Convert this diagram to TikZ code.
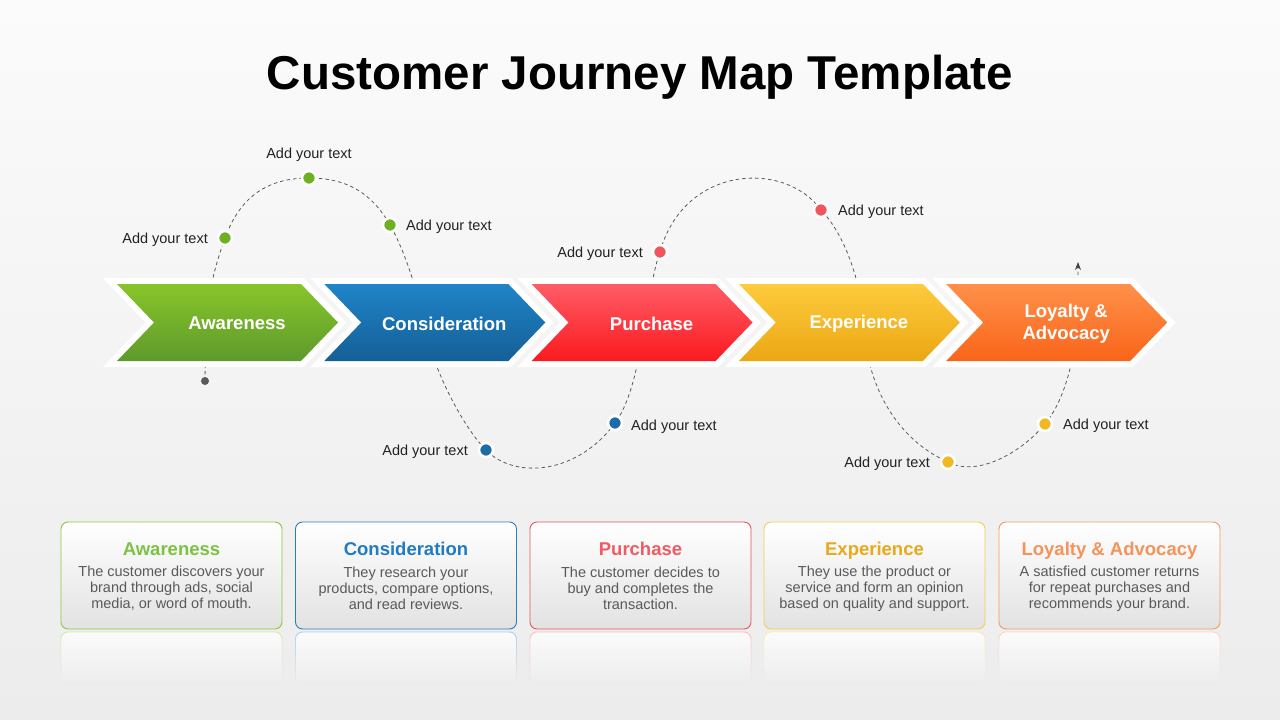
\documentclass[tikz,border=0pt]{standalone}
\usepackage{fontspec}
\setmainfont{Liberation Sans}
\usetikzlibrary{arrows.meta,fadings}
\definecolor{bgtop}{HTML}{FBFBFB}
\definecolor{bgbot}{HTML}{ECECEC}
\definecolor{gA}{HTML}{88C52A}\definecolor{gB}{HTML}{5E9A2C}
\definecolor{bA}{HTML}{1F84C8}\definecolor{bB}{HTML}{155F96}
\definecolor{rA}{HTML}{FF5C68}\definecolor{rB}{HTML}{FA1A1E}
\definecolor{yA}{HTML}{FDCB3C}\definecolor{yB}{HTML}{EBA714}
\definecolor{oA}{HTML}{FF9049}\definecolor{oB}{HTML}{F9651A}
\definecolor{dG}{HTML}{6FAF22}\definecolor{dB}{HTML}{1B6CA8}
\definecolor{dR}{HTML}{F0545E}\definecolor{dY}{HTML}{F2B824}
\definecolor{kG}{HTML}{8DC63F}\definecolor{kB}{HTML}{2A7DBF}
\definecolor{kR}{HTML}{E9545E}\definecolor{kY}{HTML}{F5CE4A}
\definecolor{kO}{HTML}{F29A63}
\definecolor{tG}{HTML}{7CC242}\definecolor{tB}{HTML}{1F7BC2}
\definecolor{tR}{HTML}{F05A62}\definecolor{tY}{HTML}{E9A91A}
\definecolor{tO}{HTML}{F4935A}
\definecolor{bodygray}{HTML}{595959}
\definecolor{lblcol}{HTML}{222222}
\definecolor{dashcol}{HTML}{5A5A5A}
\definecolor{arrowcol}{HTML}{444444}
\definecolor{cardbot}{HTML}{E2E2E2}
\newcommand\chevron[3]{\path[preaction={draw=white,line width=12pt,line join=miter},
  top color=#2, bottom color=#3]
  (#1,-284) -- ++(184,0) -- ++(37,-38.5) -- ++(-37,-38.5) -- ++(-184,0) -- ++(37,38.5) -- cycle;}
\newcommand\reflect[2]{\path[draw=#2!45, fill=white, line width=0.9pt, rounded corners=7pt,
  path fading=south, opacity=0.8] (#1-110.5,-632) rectangle (#1+110.5,-684);}
\tikzset{
  journey/.style={draw=dashcol, line width=0.8pt, dash pattern=on 3.5pt off 3pt},
  dot/.style={circle, fill=#1, draw=white, line width=2.6pt, minimum size=14pt, inner sep=0pt},
  lbl/.style={font=\fontsize{14.5}{17}\selectfont, text=lblcol, inner sep=0pt},
  chevtxt/.style={font=\bfseries\fontsize{18.5}{22}\selectfont, text=white, align=center},
  card/.style={draw=#1, line width=0.9pt, rounded corners=7pt, top color=white,
    bottom color=cardbot, minimum width=221pt, minimum height=107pt, inner sep=0pt},
  cardtitle/.style={font=\bfseries\fontsize{18.5}{22}\selectfont, text=#1, anchor=base, inner sep=0pt},
  cardbody/.style={font=\fontsize{14.5}{16}\selectfont, text=bodygray, align=center}
}
\begin{document}
\begin{tikzpicture}[x=1pt,y=1pt]
\useasboundingbox (0,0) rectangle (1280,-720);
\shade[top color=bgtop, bottom color=bgbot] (0,0) rectangle (1280,-720);

% title
\node[font=\bfseries\fontsize{47.5}{54}\selectfont, text=black, anchor=base, inner sep=0pt] (title) at (640,-89) {Customer Journey Map Template};

% dots and waypoints
\node[circle, fill=dashcol, minimum size=8pt, inner sep=0pt] (d0) at (205,-381) {};
\coordinate (w1) at (207,-322);
\coordinate (w2) at (424,-322);
\coordinate (w3) at (645,-322);
\coordinate (w4) at (863,-322);
\coordinate (w5) at (1077,-322);
\coordinate (e) at (1078,-262);
\path (225,-238) coordinate (p1) (309,-178) coordinate (p2) (390,-225) coordinate (p3)
      (486,-450) coordinate (p4) (615,-423) coordinate (p5) (660,-252) coordinate (p6)
      (821,-210) coordinate (p7) (948,-462) coordinate (p8) (1045,-424) coordinate (p9);

% dashed journey line
\draw[journey, -{Stealth[length=8pt,width=6pt,color=arrowcol]}] (d0.center)
  .. controls +(0,20) and +(0,-20) .. (w1)
  .. controls +(1,30) and +(-10,-28) .. (p1)
  .. controls +(14,38) and +(-45,0) .. (p2)
  .. controls +(40,0) and +(-17,30) .. (p3)
  .. controls +(15,-26) and +(-6,29) .. (w2)
  .. controls +(6,-40) and +(-25,25) .. (p4)
  .. controls +(29,-30) and +(-37,-51) .. (p5)
  .. controls +(18,24) and +(-5,-30) .. (w3)
  .. controls +(4,20) and +(-7,-19) .. (p6)
  .. controls +(24,87) and +(-36,50) .. (p7)
  .. controls +(27,-28) and +(-1,32) .. (w4)
  .. controls +(5,-78) and +(-41,18) .. (p8)
  .. controls +(30,-16) and +(-22,-27) .. (p9)
  .. controls +(20,24) and +(-2,-35) .. (w5)
  .. controls +(1,20) and +(0,-20) .. (e);

% chevrons
\chevron{117}{gA}{gB}
\chevron{324.3}{bA}{bB}
\chevron{531.6}{rA}{rB}
\chevron{738.9}{yA}{yB}
\chevron{946.2}{oA}{oB}
\node[chevtxt] (c1) at (237,-323.5) {Awareness};
\node[chevtxt] (c2) at (444.3,-323.5) {Consideration};
\node[chevtxt] (c3) at (651.6,-323.5) {Purchase};
\node[chevtxt] (c4) at (858.9,-323.5) {Experience};
\node[chevtxt] (c5) at (1066.2,-323.5) {Loyalty \&\\Advocacy};

% dots
\node[dot=dG] (d1) at (p1) {};
\node[dot=dG] (d2) at (p2) {};
\node[dot=dG] (d3) at (p3) {};
\node[dot=dB] (d4) at (p4) {};
\node[dot=dB] (d5) at (p5) {};
\node[dot=dR] (d6) at (p6) {};
\node[dot=dR] (d7) at (p7) {};
\node[dot=dY] (d8) at (p8) {};
\node[dot=dY] (d9) at (p9) {};

% labels
\node[lbl, anchor=base east] (l1) at ([xshift=-17pt,yshift=-5pt]d1.center) {Add your text};
\node[lbl, anchor=base] (l2) at ([yshift=20pt]d2.center) {Add your text};
\node[lbl, anchor=base west] (l3) at ([xshift=16pt,yshift=-5pt]d3.center) {Add your text};
\node[lbl, anchor=base east] (l4) at ([xshift=-18pt,yshift=-5pt]d4.center) {Add your text};
\node[lbl, anchor=base west] (l5) at ([xshift=16pt,yshift=-7pt]d5.center) {Add your text};
\node[lbl, anchor=base east] (l6) at ([xshift=-17pt,yshift=-5pt]d6.center) {Add your text};
\node[lbl, anchor=base west] (l7) at ([xshift=17pt,yshift=-5pt]d7.center) {Add your text};
\node[lbl, anchor=base east] (l8) at ([xshift=-18pt,yshift=-5pt]d8.center) {Add your text};
\node[lbl, anchor=base west] (l9) at ([xshift=18pt,yshift=-5pt]d9.center) {Add your text};

% cards with reflections
\reflect{171.5}{kG}
\reflect{406}{kB}
\reflect{640.5}{kR}
\reflect{874.5}{kY}
\reflect{1109.5}{kO}
\node[card=kG] (b1) at (171.5,-575.5) {};
\node[card=kB] (b2) at (406,-575.5) {};
\node[card=kR] (b3) at (640.5,-575.5) {};
\node[card=kY] (b4) at (874.5,-575.5) {};
\node[card=kO] (b5) at (1109.5,-575.5) {};

\node[cardtitle=tG] (h1) at (171.5,-555) {Awareness};
\node[cardtitle=tB] (h2) at (406,-555) {Consideration};
\node[cardtitle=tR] (h3) at (640.5,-555) {Purchase};
\node[cardtitle=tY] (h4) at (874.5,-555) {Experience};
\node[cardtitle=tO] (h5) at (1109.5,-555) {Loyalty \& Advocacy};

\node[cardbody] (t1) at (171.5,-588.5) {The customer discovers your\\brand through ads, social\\media, or word of mouth.};
\node[cardbody] (t2) at (406,-588.5) {They research your\\products, compare options,\\and read reviews.};
\node[cardbody] (t3) at (640.5,-588.5) {The customer decides to\\buy and completes the\\transaction.};
\node[cardbody] (t4) at (874.5,-588.5) {They use the product or\\service and form an opinion\\based on quality and support.};
\node[cardbody] (t5) at (1109.5,-588.5) {A satisfied customer returns\\for repeat purchases and\\recommends your brand.};
\end{tikzpicture}
\end{document}
